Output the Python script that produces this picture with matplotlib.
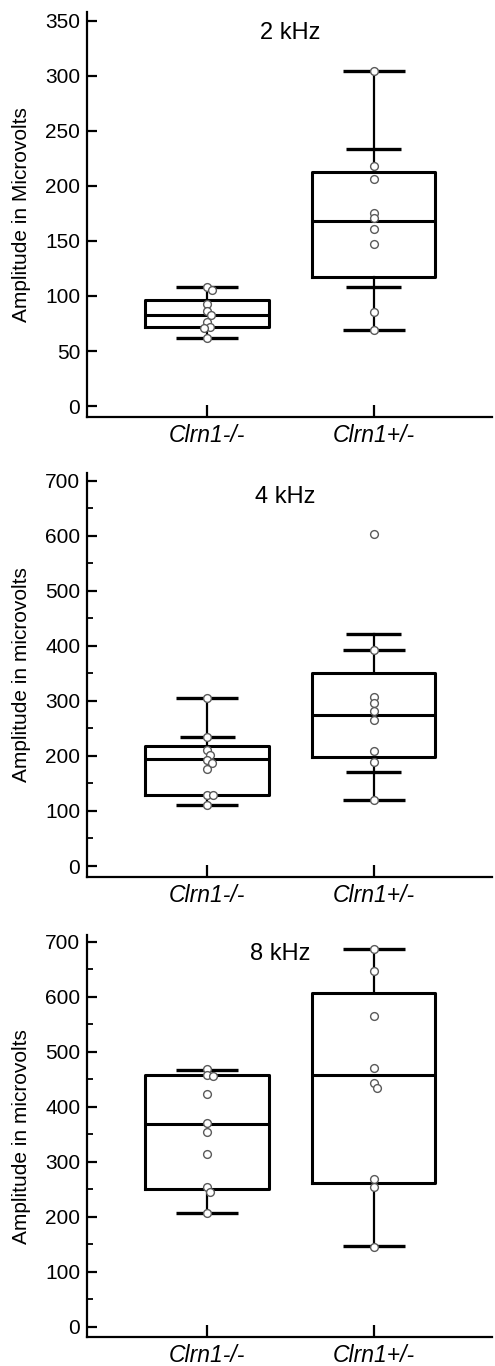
import numpy as np
import matplotlib.pyplot as plt
from matplotlib.ticker import MultipleLocator

plt.rcParams['font.family'] = ['Liberation Sans', 'DejaVu Sans']

groups = ['Clrn1-/-', 'Clrn1+/-']
titles = ['2 kHz', '4 kHz', '8 kHz']
ylabels = ['Amplitude in Microvolts', 'Amplitude in microvolts', 'Amplitude in microvolts']

# individual animals
pts_2k_ko = [108, 105, 93, 86.5, 83, 76, 71.5, 70.5, 61.5]
pts_2k_het = [304.5, 218, 206.5, 175.5, 170.5, 160.5, 147, 85.5, 69]
pts_4k_ko = [306, 235, 211, 202, 192.6, 188, 176, 129, 129, 111]
pts_4k_het = [602.5, 392.4, 307, 296.5, 281, 266, 209, 189.5, 120]
pts_8k_ko = [468, 457, 456, 423, 370, 354.5, 313.5, 253.5, 245, 207.3]
pts_8k_het = [686.7, 647.3, 565.5, 470, 442.4, 434.5, 269, 253.3, 145.5]

# box stats (q1, median, q3)
box_2k = [(71.5, 82.7, 96.3), (117, 168, 213)]
box_4k = [(129, 194, 218), (198.6, 274.3, 350.5)]
box_8k = [(249.7, 368, 457.6), (260.6, 457.6, 607.3)]

# cap levels (wide caps, narrow caps)
wide_2k = [[61.8, 107.8], [69, 304.5]]
narrow_2k = [[], [108.4, 233.7]]
wide_4k = [[111, 306], [120, 392.4]]
narrow_4k = [[235], [171, 421]]
wide_8k = [[207.3, 466.7], [146.7, 686.7]]
narrow_8k = [[], []]

panels = [
    dict(pts=[pts_2k_ko, pts_2k_het], box=box_2k, wide=wide_2k, narrow=narrow_2k,
         ylim=(-9.7, 358.2), major=50, minor=None, tpos=(1.50, 339)),
    dict(pts=[pts_4k_ko, pts_4k_het], box=box_4k, wide=wide_4k, narrow=narrow_4k,
         ylim=(-19.4, 713.4), major=100, minor=50, tpos=(1.47, 670)),
    dict(pts=[pts_8k_ko, pts_8k_het], box=box_8k, wide=wide_8k, narrow=narrow_8k,
         ylim=(-19.3, 712), major=100, minor=50, tpos=(1.44, 677.6)),
]
axes_rects = [
    [0.1764, 0.6949, 0.817, 0.2965],
    [0.1764, 0.3582, 0.817, 0.2953],
    [0.1764, 0.0210, 0.817, 0.2945],
]

fig = plt.figure(figsize=(4.95, 13.66), dpi=100)


def swarm(vals, x0, ax, thresh_px=5.5):
    # nudge overlapping circles sideways, like a small beeswarm
    bbox = ax.get_position()
    fig_w, fig_h = fig.get_size_inches() * fig.dpi
    ylo, yhi = ax.get_ylim()
    xlo, xhi = ax.get_xlim()
    py = bbox.height * fig_h / (yhi - ylo)
    px = bbox.width * fig_w / (xhi - xlo)
    placed = []
    xs = []
    for v in vals:
        y = v * py
        best = 0.0
        for cand in [0.0] + [s * k * 0.5 for k in range(1, 30) for s in (1, -1)]:
            if all(np.hypot(cand - cx, y - cy) >= thresh_px for cx, cy in placed):
                best = cand
                break
        placed.append((best, y))
        xs.append(x0 + best / px)
    return xs


for i, p in enumerate(panels):
    ax = fig.add_axes(axes_rects[i])
    ax.set_xlim(0.28, 2.71)
    ax.set_ylim(*p['ylim'])
    stats = []
    for j in range(2):
        q1, med, q3 = p['box'][j]
        caps = p['wide'][j] + p['narrow'][j]
        stats.append(dict(q1=q1, med=med, q3=q3, whislo=min(caps), whishi=max(caps), fliers=[]))
    ax.bxp(stats, positions=[1, 2], widths=0.744, showcaps=False, showfliers=False,
           boxprops=dict(color='black', linewidth=2.2),
           whiskerprops=dict(color='black', linewidth=1.6),
           medianprops=dict(color='black', linewidth=2.2))
    for j in range(2):
        pos = j + 1
        for c in p['wide'][j]:
            ax.hlines(c, pos - 0.186, pos + 0.186, color='black', linewidth=2.4, zorder=3)
        for c in p['narrow'][j]:
            ax.hlines(c, pos - 0.165, pos + 0.165, color='black', linewidth=2.4, zorder=3)
        xs = swarm(p['pts'][j], pos, ax)
        ax.plot(xs, p['pts'][j], 'o', ms=5.6, mfc='white', mec='#5a5a5a', mew=1.0,
                linestyle='none', zorder=5)

    ax.text(p['tpos'][0], p['tpos'][1], titles[i], fontsize=17, ha='center', va='center')

    ax.spines['top'].set_visible(False)
    ax.spines['right'].set_visible(False)
    ax.spines['left'].set_linewidth(1.6)
    ax.spines['bottom'].set_linewidth(1.6)
    if p['minor']:
        ax.yaxis.set_minor_locator(MultipleLocator(p['minor']))
    ax.set_yticks(np.arange(0, p['ylim'][1], p['major']))
    for lab in ax.get_yticklabels():
        lab.set_family(['Liberation Sans Narrow', 'Liberation Sans'])
    ax.tick_params(axis='y', which='major', direction='in', length=7, width=1.6,
                   labelsize=15, pad=5)
    ax.tick_params(axis='y', which='minor', direction='in', length=4, width=1.3)
    ax.set_xticks([1, 2])
    ax.set_xticklabels(groups, fontsize=16.5, style='italic')
    ax.tick_params(axis='x', direction='in', length=9, width=1.6, pad=5)
    ax.set_ylabel(ylabels[i], fontsize=15)
    ax.yaxis.set_label_coords(-0.139, 0.5)

fig.savefig('out.png', dpi=100)
